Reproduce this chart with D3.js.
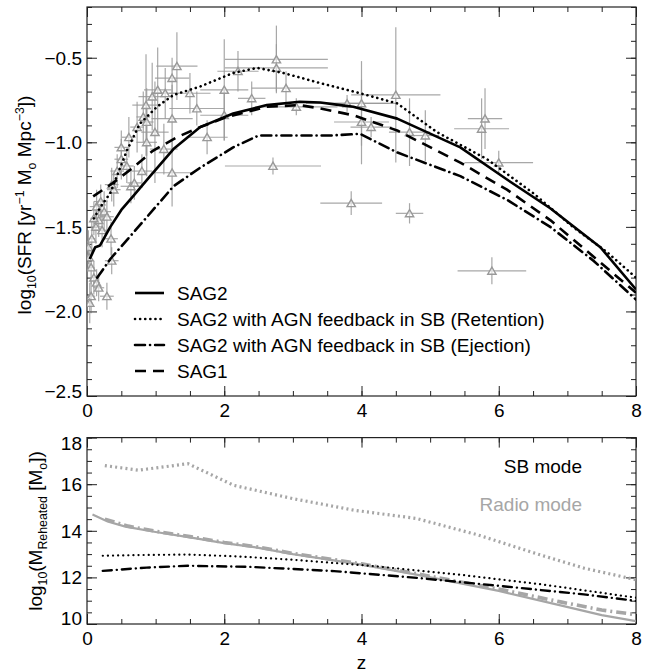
<!DOCTYPE html>
<html><head><meta charset="utf-8">
<script src="https://cdn.jsdelivr.net/npm/d3@7"></script>
<style>
body{margin:0;background:#fff}
text{font-family:"Liberation Sans",Arial,Helvetica,sans-serif}
</style>
</head><body>
<svg id="chart" width="654" height="672"></svg>
<script>
// ---------- Top panel: model curves (z, log10 SFR density) ----------
const sag2Z = [0.04,0.12,0.19,0.34,0.5,0.67,0.92,1.26,1.65,2.13,2.62,3.1,3.4,3.69,3.88,4.52,5.44,6.12,6.75,7.48,8];
const sag2V = [-1.69,-1.62,-1.61,-1.5,-1.40,-1.32,-1.20,-1.04,-0.91,-0.83,-0.78,-0.76,-0.765,-0.78,-0.79,-0.86,-1.03,-1.22,-1.39,-1.62,-1.87];
const retZ = [0.1,0.2,0.34,0.58,0.77,1.02,1.26,1.65,2.13,2.48,2.86,3.4,3.98,4.52,5.1,5.83,6.5,7.08,7.58,8];
const retV = [-1.45,-1.38,-1.30,-1.05,-0.89,-0.79,-0.72,-0.67,-0.59,-0.56,-0.59,-0.65,-0.71,-0.77,-0.94,-1.10,-1.30,-1.50,-1.65,-1.80];
const ejZ = [0.15,0.34,0.77,1.26,1.65,2.13,2.5,3.0,3.54,3.98,4.52,5.44,6.12,6.75,7.38,8];
const ejV = [-1.80,-1.69,-1.49,-1.26,-1.15,-1.03,-0.96,-0.96,-0.96,-0.95,-1.06,-1.20,-1.34,-1.50,-1.70,-1.93];
const sag1Z = [0.09,0.38,0.67,0.96,1.31,1.65,2.04,2.62,3.1,3.4,3.88,4.52,5.44,6.12,6.75,7.48,8];
const sag1V = [-1.32,-1.24,-1.15,-1.05,-0.97,-0.91,-0.85,-0.79,-0.78,-0.80,-0.84,-0.93,-1.12,-1.28,-1.46,-1.71,-1.89];

// ---------- Top panel: observations ----------
const obsZ    = [0.03,0.06,0.1,0.14,0.17,0.06,0.29,0.07,0.35,0.36,0.14,0.25,0.17,0.29,0.13,0.22,0.2,0.1,0.02,0.04,
                 0.39,0.36,0.44,0.5,0.5,0.58,0.61,0.64,0.69,0.73,0.8,0.82,0.86,0.87,0.87,0.95,0.99,1.03,1.12,1.14,
                 1.24,1.31,1.24,1.24,1.5,1.6,1.75,
                 2.0,2.0,2.2,2.4,2.76,2.76,2.9,3.05,2.71,3.79,4.0,4.0,4.14,4.5,4.7,4.93,3.85,4.7,5.8,5.75,6.0,5.9];
const obsSFR  = [-1.68,-1.74,-1.80,-1.83,-1.86,-1.91,-1.91,-1.57,-1.57,-1.70,-1.38,-1.41,-1.46,-1.44,-1.50,-1.52,-1.35,-1.45,-1.62,-1.95,
                 -1.28,-1.25,-1.17,-1.10,-1.03,-1.14,-0.97,-1.26,-1.24,-0.91,-1.17,-0.85,-0.78,-0.88,-1.00,-0.73,-0.94,-0.69,-1.04,-0.71,
                 -0.62,-0.55,-0.86,-1.18,-0.71,-0.80,-0.97,
                 -0.69,-0.84,-0.58,-0.74,-0.51,-0.56,-0.68,-0.79,-1.14,-0.77,-0.77,-0.88,-0.91,-0.72,-0.94,-0.96,-1.36,-1.42,-0.86,-0.92,-1.12,-1.76];
const obsZErr = [0.03,0.05,0.05,0.05,0.08,0.06,0.1,0.05,0.1,0.1,0.1,0.1,0.1,0.1,0.08,0.1,0.1,0.05,0.02,0.04,
                 0.1,0.1,0.1,0.1,0.1,0.1,0.1,0.15,0.1,0.1,0.15,0.1,0.2,0.1,0.15,0.2,0.2,0.2,0.2,0.2,
                 0.25,0.3,0.3,0.3,0.3,0.4,0.3,
                 0.35,0.35,0.3,0.2,0.75,0.75,0.5,0.6,0.7,0.6,0.5,0.4,0.3,0.65,0.3,0.2,0.45,0.2,0.25,0.4,0.5,0.5];
const obsSFRErr = [0.08,0.1,0.1,0.08,0.08,0.1,0.08,0.1,0.1,0.08,0.1,0.12,0.1,0.1,0.1,0.1,0.1,0.1,0.1,0.12,
                 0.1,0.1,0.1,0.12,0.1,0.1,0.12,0.1,0.1,0.15,0.1,0.15,0.3,0.2,0.2,0.2,0.3,0.25,0.15,0.15,
                 0.12,0.2,0.2,0.2,0.12,0.1,0.1,
                 0.3,0.15,0.12,0.1,0.2,0.14,0.1,0.05,0.05,0.05,0.25,0.25,0.06,0.4,0.2,0.15,0.07,0.06,0.18,0.18,0.07,0.08];

// ---------- Bottom panel: reheated mass (z, log10 M) ----------
const sbRetZ = [0.23,0.8,1.47,2.2,2.99,4.2,5.42,6.63,8];
const sbRetV = [12.93,12.96,12.98,12.9,12.76,12.48,12.12,11.7,11.13];
const sbEjZ = [0.23,0.87,1.47,2.39,3.6,4.81,6.03,7.24,8];
const sbEjV = [12.28,12.42,12.5,12.45,12.27,11.98,11.63,11.27,10.99];
const radioSag2Z = [0.08,0.3,0.56,1.0,1.5,2.0,2.5,3.0,4.0,4.8,6.0,6.9,7.5,8];
const radioSag2V = [14.7,14.4,14.18,13.95,13.72,13.47,13.27,13.0,12.55,12.12,11.42,10.8,10.38,10.12];
const radioEjZ = [0.26,0.6,1.0,1.5,2.0,2.5,3.0,4.0,4.8,6.0,6.9,7.5,8];
const radioEjV = [14.5,14.2,13.98,13.75,13.5,13.3,13.03,12.58,12.16,11.5,10.95,10.6,10.4];
const radioRetZ = [0.26,0.75,1.47,2.14,3.0,3.9,4.8,5.7,6.6,7.24,8];
const radioRetV = [16.8,16.6,16.88,15.95,15.38,14.88,14.53,13.82,12.97,12.4,11.9];

// ---------- Ticks & labels ----------
const xMajor = [0,2,4,6,8];
const topYMajor = [-2.5,-2.0,-1.5,-1.0,-0.5];
const botYMajor = [10,12,14,16,18];
const legendLabels = ["SAG2","SAG2 with AGN feedback in SB (Retention)","SAG2 with AGN feedback in SB (Ejection)","SAG1"];
const modeLabels = ["SB mode","Radio mode"];

// ---------- Drawing ----------
const svg = d3.select("#chart");
const L = 87, R = 636;
const x = d3.scaleLinear().domain([0,8]).range([L,R]);
const yTop = d3.scaleLinear().domain([-2.5,-0.2]).range([396,7]);
const yBot = d3.scaleLinear().domain([10,18]).range([624,437.6]);
const FS = 19;
const GRAY = "#999999";
const AX = "#222";

const fmtTop = v => (v<0?"\u2212":"") + Math.abs(v).toFixed(1);
const range = (a,b,s) => d3.range(Math.round((b-a)/s)+1).map(i => +(a+i*s).toFixed(4));

function frame(yScale, yMaj, yMin, fmt, labelShift){
  const [y0,y1] = yScale.range();
  const g = svg.append("g");
  const mk = (axis, tr) => {
    const a = g.append("g").attr("transform", tr).call(axis);
    a.select(".domain").remove();
    a.selectAll("line").attr("stroke", AX).attr("stroke-width",1);
    return a;
  };
  mk(d3.axisBottom(x).tickValues(range(0,8,0.5)).tickSizeInner(-5).tickSizeOuter(0).tickFormat(""), `translate(0,${y0})`);
  mk(d3.axisTop(x).tickValues(range(0,8,0.5)).tickSizeInner(-5).tickSizeOuter(0).tickFormat(""), `translate(0,${y1})`);
  mk(d3.axisLeft(yScale).tickValues(yMin).tickSizeInner(-5).tickSizeOuter(0).tickFormat(""), `translate(${L},0)`);
  mk(d3.axisRight(yScale).tickValues(yMin).tickSizeInner(-5).tickSizeOuter(0).tickFormat(""), `translate(${R},0)`);
  const bx = mk(d3.axisBottom(x).tickValues(xMajor).tickSizeInner(-10).tickSizeOuter(0).tickPadding(8).tickFormat(d3.format("d")), `translate(0,${y0})`);
  mk(d3.axisTop(x).tickValues(xMajor).tickSizeInner(-10).tickSizeOuter(0).tickFormat(""), `translate(0,${y1})`);
  const ly = mk(d3.axisLeft(yScale).tickValues(yMaj).tickSizeInner(-10).tickSizeOuter(0).tickPadding(5).tickFormat(fmt), `translate(${L},0)`);
  mk(d3.axisRight(yScale).tickValues(yMaj).tickSizeInner(-10).tickSizeOuter(0).tickFormat(""), `translate(${R},0)`);
  [bx, ly].forEach(a => a.selectAll("text").attr("font-size", FS).attr("fill","#000")
      .style("font-family",'"Liberation Sans",Arial,sans-serif'));
  bx.selectAll("text").attr("dy","0.71em");
  ly.selectAll("text").attr("dy", d => (0.34*FS + (labelShift[d]||0)) + "px");
  g.append("rect").attr("x",L).attr("y",y1).attr("width",R-L).attr("height",y0-y1)
    .attr("fill","none").attr("stroke",AX).attr("stroke-width",1.2);
}

// ---- Top panel ----
frame(yTop, topYMajor, range(-2.5,-0.2,0.1), fmtTop, {"-2.5":-5});

svg.append("clipPath").attr("id","ct").append("rect")
  .attr("x",L).attr("y",7).attr("width",R-L).attr("height",389);

const obs = svg.append("g").attr("clip-path","url(#ct)");
obsZ.forEach((z,i) => {
  const v = obsSFR[i], ez = obsZErr[i], ev = obsSFRErr[i];
  obs.append("line").attr("x1",x(z-ez)).attr("x2",x(z+ez)).attr("y1",yTop(v)).attr("y2",yTop(v))
    .attr("stroke",GRAY).attr("stroke-width",1.2).attr("opacity",0.85);
  obs.append("line").attr("x1",x(z)).attr("x2",x(z)).attr("y1",yTop(v-ev)).attr("y2",yTop(v+ev))
    .attr("stroke",GRAY).attr("stroke-width",1.2).attr("opacity",0.85);
});
const tri = d3.symbol().type(d3.symbolTriangle).size(30);
obsZ.forEach((z,i) => {
  obs.append("path").attr("d",tri()).attr("transform",`translate(${x(z)},${yTop(obsSFR[i])+1})`)
    .attr("fill","#fff").attr("fill-opacity",0.6).attr("stroke",GRAY).attr("stroke-width",1.4);
});

const lineTop = (zs,vs) => d3.line().x((d,i)=>x(zs[i])).y((d,i)=>yTop(vs[i]))(zs);
const styles = [
  {dash:null, w:2.6, cap:"butt"},
  {dash:"0.1 5", w:2.6, cap:"round"},
  {dash:"10 5 0.1 5", w:2.6, cap:"round"},
  {dash:"11 7", w:2.6, cap:"butt"}
];
const models = [[sag2Z,sag2V],[retZ,retV],[ejZ,ejV],[sag1Z,sag1V]];
const mg = svg.append("g").attr("clip-path","url(#ct)");
models.forEach((m,i) => {
  mg.append("path").attr("d", lineTop(m[0],m[1])).attr("fill","none").attr("stroke","#000")
    .attr("stroke-width",styles[i].w).attr("stroke-dasharray",styles[i].dash).attr("stroke-linecap",styles[i].cap)
    .attr("stroke-linejoin","round");
});

// legend
const legY = [293,319,345,371];
legendLabels.forEach((t,i) => {
  svg.append("line").attr("x1",135).attr("x2",164).attr("y1",legY[i]).attr("y2",legY[i])
    .attr("stroke","#000").attr("stroke-width",styles[i].w).attr("stroke-dasharray",styles[i].dash)
    .attr("stroke-linecap",styles[i].cap);
  svg.append("text").attr("x",177).attr("y",legY[i]).attr("dy","0.35em").attr("font-size",FS).text(t);
});

// y title top
const tTop = svg.append("text").attr("transform","translate(31,205) rotate(-90)")
  .attr("text-anchor","middle").attr("font-size",FS);
[
  {t:"log"},{t:"10",s:"sub"},{t:"(SFR [yr",back:-5},{t:"\u22121",s:"sup"},{t:" M",back:7},{t:"o",s:"sub"},
  {t:" Mpc",back:-5},{t:"\u22123",s:"sup"},{t:"])",back:7}
].forEach(p => {
  const ts = tTop.append("tspan").text(p.t);
  let dy = 0;
  if(p.back!==undefined) dy += p.back;
  if(p.s==="sub"){ ts.attr("font-size",FS*0.65); dy += 5; }
  if(p.s==="sup"){ ts.attr("font-size",FS*0.65); dy += -7; }
  if(dy) ts.attr("dy",dy);
});

// ---- Bottom panel ----
frame(yBot, botYMajor, range(10,18,0.5), d3.format("d"), {"10":-6,"18":5});

svg.append("clipPath").attr("id","cb").append("rect")
  .attr("x",L).attr("y",437.6).attr("width",R-L).attr("height",186.4);
const bg = svg.append("g").attr("clip-path","url(#cb)");
const lineBot = (zs,vs) => d3.line().x((d,i)=>x(zs[i])).y((d,i)=>yBot(vs[i]))(zs);
const botSeries = [
  {z:radioRetZ, v:radioRetV, c:"#a6a6a6", w:3.2, dash:"2 3.2", cap:"butt"},
  {z:radioSag2Z, v:radioSag2V, c:"#a6a6a6", w:2.2, dash:null, cap:"butt"},
  {z:radioEjZ, v:radioEjV, c:"#a6a6a6", w:3.6, dash:"10 4 2 4", cap:"butt"},
  {z:sbRetZ, v:sbRetV, c:"#000", w:2.2, dash:"0.1 5", cap:"round"},
  {z:sbEjZ, v:sbEjV, c:"#000", w:2.4, dash:"9 5 0.1 5", cap:"round"}
];
botSeries.forEach(s => {
  bg.append("path").attr("d",lineBot(s.z,s.v)).attr("fill","none").attr("stroke",s.c)
    .attr("stroke-width",s.w).attr("stroke-dasharray",s.dash).attr("stroke-linecap",s.cap);
});

svg.append("text").attr("x",582).attr("y",466).attr("dy","0.35em").attr("text-anchor","end")
  .attr("font-size",FS).attr("fill","#000").text(modeLabels[0]);
svg.append("text").attr("x",582).attr("y",504).attr("dy","0.35em").attr("text-anchor","end")
  .attr("font-size",FS).attr("fill","#a6a6a6").text(modeLabels[1]);

const tBot = svg.append("text").attr("transform","translate(42,531) rotate(-90)")
  .attr("text-anchor","middle").attr("font-size",FS);
[
  {t:"log"},{t:"10",s:"sub"},{t:"(M",back:-5},{t:"Reheated",s:"sub"},{t:" [M",back:-5},{t:"o",s:"sub"},{t:"])",back:-5}
].forEach(p => {
  const ts = tBot.append("tspan").text(p.t);
  let dy = 0;
  if(p.back!==undefined) dy += p.back;
  if(p.s==="sub"){ ts.attr("font-size",FS*0.65); dy += 5; }
  if(dy) ts.attr("dy",dy);
});

svg.append("text").attr("x",(L+R)/2).attr("y",669).attr("text-anchor","middle").attr("font-size",FS).text("z");
</script>
</body></html>
